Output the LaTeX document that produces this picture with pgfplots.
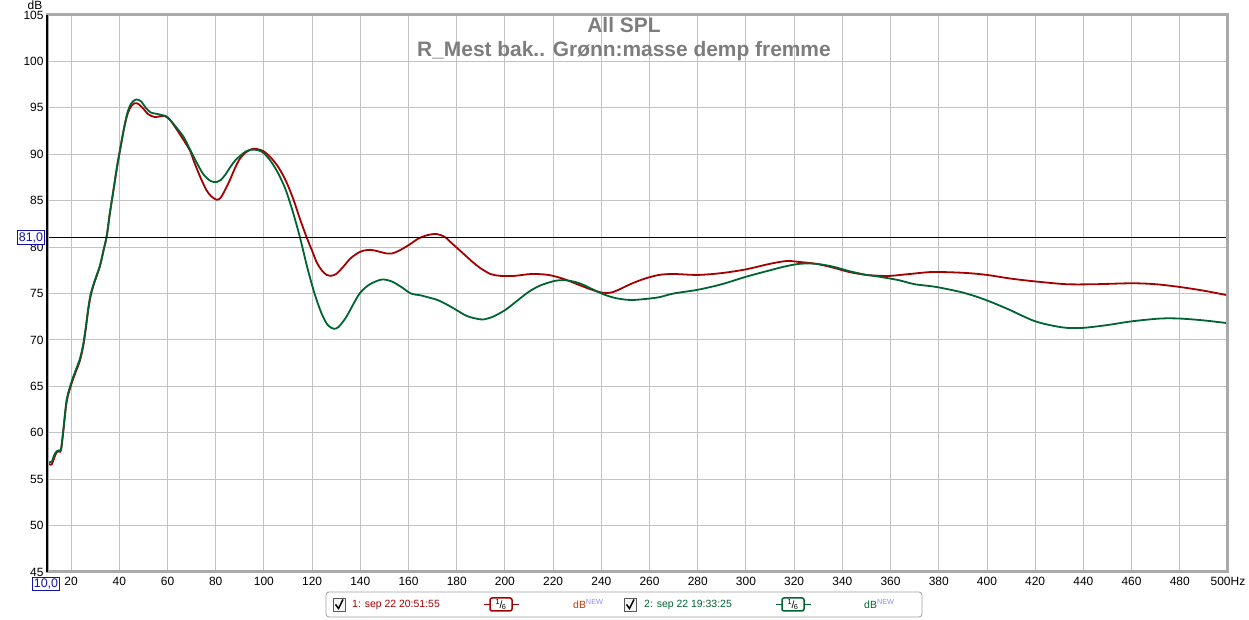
\documentclass[border=0pt]{standalone}
\usepackage{pgfplots}
\pgfplotsset{compat=1.18}
\usepackage{fontspec}
\setmainfont{Liberation Sans}
\definecolor{rewred}{RGB}{165,0,0}
\definecolor{rewgreen}{RGB}{0,100,50}
\definecolor{gridgray}{RGB}{195,195,195}
\definecolor{framegray}{RGB}{170,170,170}
\definecolor{titlegray}{RGB}{125,125,125}
\definecolor{boxblue}{RGB}{20,20,170}
\definecolor{dborange}{RGB}{190,60,0}
\definecolor{newblue}{RGB}{140,140,255}

\pgfplotstableread{
f db
10 56.8
11 56.6
12 56.6
13 57.3
14 57.9
15 58.0
15.8 58.1
16.8 60.2
18.2 63.4
20.2 65.3
22 66.6
23.7 67.8
25 69.3
26 71
27 73
28 74.6
29.2 75.8
30.5 76.8
32 78
33.5 79.7
34.8 81.2
36 83.5
37.5 86
39 88.5
40.3 90.4
42 92.8
43.5 94.4
45 95.2
46.5 95.5
48 95.4
50 94.9
52 94.3
54.8 94.0
57 94.1
59 94.1
61 93.7
63 93.0
66 91.8
69.3 90.4
71 89.2
73.5 87.6
76 86.2
78 85.5
80.4 85.1
82 85.3
84 86.2
86 87.3
88 88.5
90 89.5
92.5 90.2
95.6 90.6
98 90.5
100 90.3
103 89.6
106 88.6
109 87.2
112 85.3
115 83.0
117.8 81.0
120 79.6
122 78.3
124 77.5
126 77.0
127.5 76.9
130 77.1
133 77.9
136 78.8
140 79.5
144 79.7
148 79.5
151 79.3
153 79.3
156 79.6
160 80.2
164 80.9
168 81.3
171.7 81.4
175 81.1
178 80.4
181 79.7
184 79.0
187 78.3
190 77.7
194 77.1
198 76.9
204 76.9
211 77.1
218 77.0
224 76.6
230 76.0
235 75.5
240 75.1
244 75.1
248 75.5
252 76.0
258 76.6
264 77.0
270 77.1
280 77.0
290 77.2
300 77.6
310 78.2
317 78.5
322 78.4
329 78.2
336 77.8
343 77.3
350 77.0
356 76.9
360 76.9
368 77.1
376 77.3
383 77.3
392 77.2
400 77.0
410 76.6
420 76.3
433 76.0
445 76.0
460 76.1
470 76.0
480 75.7
490 75.3
500 74.8
}\redtable

\pgfplotstableread{
f db
10 57.0
11 56.8
12 56.9
13 57.6
14 58.0
15 58.1
15.8 58.2
16.8 60.4
18.2 63.6
20.2 65.5
22 66.8
23.7 68.0
25 69.5
26 71.2
27 73.2
28 74.8
29.2 75.9
30.5 76.9
32 78.0
33.5 79.7
34.8 81.2
36 83.5
37.5 86
39 88.6
40.3 90.5
42 92.9
43.5 94.6
45 95.5
47 95.9
49 95.7
51 95.0
53 94.5
55.5 94.35
58 94.2
60 94.0
63 93.1
66.6 91.9
69 90.7
72.1 89.1
75 87.8
78 87.1
80.4 87.0
82 87.2
84 87.8
86 88.6
88 89.3
90 89.8
92.5 90.3
95 90.5
98 90.4
100 90.1
103 89.2
106 87.9
109 86.2
112 83.8
115 81.0
118 77.8
121 75.0
124 72.8
126.5 71.6
129 71.2
131 71.4
134 72.4
137 73.8
140 75.1
144 76.0
148.9 76.5
153 76.3
157 75.7
161 75.0
165 74.8
168 74.6
172 74.3
176 73.8
180 73.2
184 72.6
188 72.3
191 72.2
195 72.5
200 73.2
205 74.2
210 75.2
215 75.9
221.5 76.4
226 76.4
231 76.1
236 75.5
241 74.9
246 74.5
252 74.3
258 74.4
264 74.6
270 75.0
280 75.4
290 76.0
300 76.8
310 77.5
316 77.9
322.4 78.2
329 78.2
336 77.9
343 77.4
350 77.0
353 76.9
360 76.6
364 76.4
370 76.0
379 75.7
390 75.1
398.5 74.4
408 73.4
419 72.1
426 71.6
433 71.3
440 71.3
450 71.6
460 72.0
471.8 72.3
480 72.3
490 72.1
500 71.8
}\greentable

\begin{document}
\begin{tikzpicture}[x=1bp,y=1bp]
\useasboundingbox (0,0) rectangle (1249,620);
\begin{axis}[
  name=ax,
  at={(47bp,48bp)}, anchor=south west,
  width=1181bp, height=557bp, scale only axis,
  xmin=10, xmax=500, ymin=45, ymax=105,
  xtick={20,40,...,500},
  xticklabels={20,40,60,80,100,120,140,160,180,200,220,240,260,280,300,320,340,360,380,400,420,440,460,480,500Hz},
  ytick={45,50,...,105},
  grid=major, major grid style={gridgray, line width=0.9bp},
  major tick length=0pt,
  axis line style={draw=none},
  tick label style={font=\fontsize{12}{12}\selectfont, text=black},
  /pgf/number format/assume math mode=true,
  xticklabel style={yshift=-2bp},
]
\addplot[rewred, line width=1.8bp, smooth, no markers] table[x=f, y=db] {\redtable};
\addplot[rewgreen, line width=1.8bp, smooth, no markers] table[x=f, y=db] {\greentable};
\draw[black, line width=1bp] (axis cs:10,81) -- (axis cs:500,81);
\end{axis}
% frame
\draw[framegray, line width=3bp] (ax.south west) rectangle (ax.north east);
\draw[black, line width=1.6bp] (ax.south west) -- (ax.north west);
% boxed markers
\node[draw=boxblue, text=boxblue, fill=white, inner sep=1.5bp, line width=0.8bp, font=\fontsize{12.5}{12.5}\selectfont] at (46,36) {10,0};
\node[draw=boxblue, text=boxblue, fill=white, inner sep=1.5bp, line width=0.8bp, font=\fontsize{12.5}{12.5}\selectfont] at (31,382.5) {81,0};
\node[font=\fontsize{12}{12}\selectfont, anchor=base, inner sep=0] at (35,610.5) {dB};
% title
\node[anchor=base, text=titlegray, font=\fontsize{21}{21}\selectfont\bfseries] at (624,587) {All SPL};
\node[anchor=base, text=titlegray, font=\fontsize{21}{21}\selectfont\bfseries] at (624,563) {R\_Mest bak.. Grønn:masse demp fremme};
% legend
\draw[rounded corners=3bp, gray!75, line width=0.8bp, fill=white] (326,3) rectangle (922,28);
\draw[gray!70!black, fill=gray!8, line width=0.7bp] (333,9) rectangle (345,22);
\draw[black, line width=1.5bp] (335.5,15.5) -- (338.5,11.5) -- (343,20.5);
\node[anchor=west, text=rewred, inner sep=0, font=\fontsize{10.5}{10.5}\selectfont] at (352,15.5) {1: sep 22 20:51:55};
\draw[rewred, line width=1.2bp] (484,15.5) -- (519,15.5);
\node[draw=rewred, line width=1.5bp, rounded corners=2bp, fill=white, inner sep=1bp, minimum width=22bp, minimum height=13bp, font=\fontsize{10.5}{10.5}\selectfont] at (501,15.5) {\textsuperscript{1}\kern-0.05em/\kern-0.05em\textsubscript{6}};
\node[anchor=west, inner sep=0, font=\fontsize{10.5}{10.5}\selectfont] at (573,15.5) {\textcolor{dborange}{dB}\textcolor{newblue}{\textsuperscript{NEW}}};
\draw[gray!70!black, fill=gray!8, line width=0.7bp] (624,9) rectangle (636,22);
\draw[black, line width=1.5bp] (626.5,15.5) -- (629.5,11.5) -- (634,20.5);
\node[anchor=west, text=rewgreen, inner sep=0, font=\fontsize{10.5}{10.5}\selectfont] at (644,15.5) {2: sep 22 19:33:25};
\draw[rewgreen, line width=1.2bp] (776,15.5) -- (811,15.5);
\node[draw=rewgreen, line width=1.5bp, rounded corners=2bp, fill=white, inner sep=1bp, minimum width=22bp, minimum height=13bp, font=\fontsize{10.5}{10.5}\selectfont] at (793,15.5) {\textsuperscript{1}\kern-0.05em/\kern-0.05em\textsubscript{6}};
\node[anchor=west, inner sep=0, font=\fontsize{10.5}{10.5}\selectfont] at (864,15.5) {\textcolor{rewgreen}{dB}\textcolor{newblue}{\textsuperscript{NEW}}};
\end{tikzpicture}
\end{document}
